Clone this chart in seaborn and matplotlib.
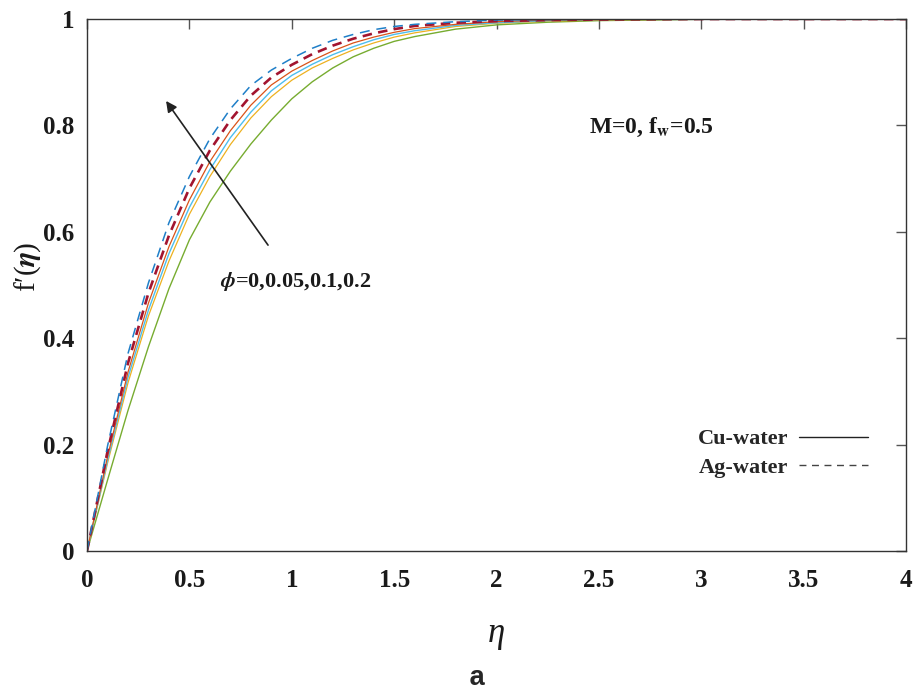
import matplotlib
matplotlib.use("Agg")
import matplotlib.pyplot as plt
from matplotlib.lines import Line2D
import seaborn as sns
import pandas as pd

# ---- data ----
eta = [0, 0.1, 0.2, 0.3, 0.4, 0.5, 0.6, 0.7, 0.8, 0.9, 1.0, 1.1, 1.2, 1.3,
       1.4, 1.5, 1.6, 1.8, 2.0, 2.25, 2.5, 3.0, 3.5, 4.0]

cu_phi0 = [0, 0.133, 0.264, 0.384, 0.493, 0.585, 0.656, 0.714, 0.765, 0.810,
           0.850, 0.882, 0.908, 0.929, 0.945, 0.958, 0.967, 0.981, 0.989,
           0.994, 0.997, 0.9995, 1.0, 1.0]
cu_phi005 = [0, 0.165, 0.316, 0.442, 0.545, 0.633, 0.704, 0.764, 0.814, 0.854,
             0.885, 0.908, 0.926, 0.942, 0.955, 0.966, 0.974, 0.986, 0.992,
             0.996, 0.998, 1.0, 1.0, 1.0]
cu_phi01 = [0, 0.170, 0.326, 0.453, 0.559, 0.646, 0.717, 0.777, 0.825, 0.865,
            0.894, 0.915, 0.933, 0.948, 0.961, 0.971, 0.978, 0.988, 0.993,
            0.997, 0.999, 1.0, 1.0, 1.0]
cu_phi02 = [0, 0.177, 0.336, 0.466, 0.572, 0.660, 0.732, 0.790, 0.838, 0.876,
            0.902, 0.922, 0.940, 0.955, 0.966, 0.975, 0.982, 0.990, 0.995,
            0.998, 0.999, 1.0, 1.0, 1.0]
ag_phi01 = [0, 0.187, 0.353, 0.485, 0.593, 0.682, 0.753, 0.810, 0.856, 0.890,
            0.914, 0.934, 0.950, 0.963, 0.973, 0.981, 0.987, 0.993, 0.996,
            0.998, 0.999, 1.0, 1.0, 1.0]
ag_phi02 = [0, 0.197, 0.371, 0.504, 0.617, 0.704, 0.775, 0.831, 0.875, 0.904,
            0.926, 0.945, 0.960, 0.971, 0.980, 0.986, 0.990, 0.995, 0.998,
            0.999, 1.0, 1.0, 1.0, 1.0]

x_ticks = [0, 0.5, 1, 1.5, 2, 2.5, 3, 3.5, 4]
x_tick_labels = ["0", "0.5", "1", "1.5", "2", "2.5", "3", "3.5", "4"]
y_ticks = [0, 0.2, 0.4, 0.6, 0.8, 1]
y_tick_labels = ["0", "0.2", "0.4", "0.6", "0.8", "1"]

legend_labels = ["Cu-water", "Ag-water"]
param_text = r"M=0, f$_{\mathbf{w}}$=0.5"
phi_text = r"$\phi$=0,0.05,0.1,0.2"

# ---- style ----
sns.set_theme(style="white")
plt.rcParams["font.family"] = ["Liberation Serif", "DejaVu Serif"]
plt.rcParams["font.weight"] = "bold"
plt.rcParams["mathtext.fontset"] = "stix"

fig = plt.figure(figsize=(9.18, 6.97), dpi=100)
ax = fig.add_axes([0.0948, 0.2095, 0.8922, 0.7632])

curves = [
    (cu_phi0, "#77AC30", 1.0, None),
    (cu_phi005, "#EDB120", 0.9, None),
    (cu_phi01, "#4DBEEE", 1.0, None),
    (cu_phi02, "#D95319", 0.9, None),
    (ag_phi01, "#A2142F", 1.9, (3.6, 2.4)),
    (ag_phi02, "#1F7FC8", 1.1, (6.5, 4.5)),
]
for vals, col, lw, dash in curves:
    df = pd.DataFrame({"eta": eta, "fp": vals})
    sns.lineplot(data=df, x="eta", y="fp", color=col, lw=lw, ax=ax,
                 estimator=None, sort=False)
    l = ax.get_lines()[-1]
    if dash is not None:
        l.set_dashes(dash)

ax.set_xlim(0, 4)
ax.set_ylim(0, 1)
ax.set_xticks(x_ticks)
ax.set_xticklabels(x_tick_labels)
ax.set_yticks(y_ticks)
ax.set_yticklabels(y_tick_labels)
ax.tick_params(direction="in", top=True, right=True, length=7, width=1,
               color="#555555", labelsize=18, labelcolor="#1a1a1a")
ax.tick_params(axis="x", pad=13)
ax.tick_params(axis="y", pad=9)
for s in ax.spines.values():
    s.set_color("#333333")
    s.set_linewidth(1.0)

ax.set_xlabel("\u03b7", fontsize=25, color="#1a1a1a", fontweight="normal",
              fontstyle="italic")
ax.set_ylabel("f\u2032(" + r"$\eta$" + ")", fontsize=21, color="#1a1a1a")
ax.yaxis.set_label_coords(-0.054, 0.535)
ax.xaxis.set_label_coords(0.5, -0.125)

fig.text(0.52, 0.027, "a", fontsize=20, ha="center", va="center",
         family=["Liberation Mono", "DejaVu Sans Mono"], fontweight="bold")

ax.text(2.45, 0.785, param_text, fontsize=17, fontweight="bold",
        color="#1a1a1a")
ax.text(0.65, 0.497, phi_text, fontsize=16, fontweight="bold",
        color="#1a1a1a")

ax.annotate("", xy=(0.386, 0.846), xytext=(0.884, 0.575),
            arrowprops=dict(arrowstyle="-|>", color="#222222", lw=1.2,
                            mutation_scale=16, shrinkA=0, shrinkB=0))

handles = [Line2D([], [], color="#222222", lw=1.0, ls="-"),
           Line2D([], [], color="#444444", lw=1.0, ls=(0, (5, 4)))]
leg = ax.legend(handles, legend_labels, markerfirst=False, frameon=False,
                loc="lower right", bbox_to_anchor=(0.978, 0.10),
                fontsize=16, handlelength=3.1, handletextpad=0.5,
                labelspacing=0.35)

fig.savefig("out.png", dpi=100)
